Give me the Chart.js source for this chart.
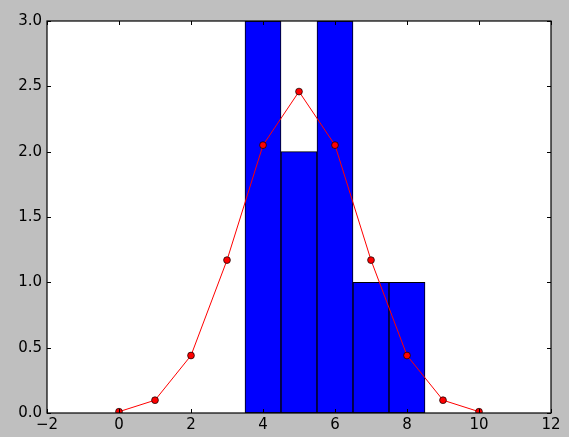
<!DOCTYPE html>
<html lang="en">
<head>
    <meta charset="UTF-8">
    <title>Histogram with curve</title>
    <script src="https://cdn.jsdelivr.net/npm/chart.js"></script>
    <style>
        html, body { margin: 0; padding: 0; background: #bfbfbf; }
        #wrap { width: 569px; height: 437px; }
    </style>
</head>
<body>
    <div id="wrap"><canvas id="chart"></canvas></div>

    <script>
        // values
        const xValues = [0, 1, 2, 3, 4, 5, 6, 7, 8, 9, 10];
        const histCounts = [0, 0, 0, 0, 3, 2, 3, 1, 1, 0, 0];
        const curveValues = [0.01, 0.098, 0.44, 1.17, 2.05, 2.46, 2.05, 1.17, 0.44, 0.098, 0.01];
        const xTicks = [-2, 0, 2, 4, 6, 8, 10, 12];
        const yTicks = [0, 0.5, 1, 1.5, 2, 2.5, 3];

        // frame + inward ticks on all four sides, like matplotlib classic
        const framePlugin = {
            id: 'frame',
            afterDraw(chart) {
                const { ctx, chartArea: a, scales } = chart;
                const len = 4;
                ctx.save();
                ctx.strokeStyle = '#000';
                ctx.lineWidth = 1;
                ctx.beginPath();
                xTicks.forEach(v => {
                    const px = Math.round(scales.x.getPixelForValue(v)) + 0.5;
                    ctx.moveTo(px, a.bottom); ctx.lineTo(px, a.bottom - len);
                    ctx.moveTo(px, a.top); ctx.lineTo(px, a.top + len);
                });
                yTicks.forEach(v => {
                    const py = Math.round(scales.y.getPixelForValue(v)) + 0.5;
                    ctx.moveTo(a.left, py); ctx.lineTo(a.left + len, py);
                    ctx.moveTo(a.right, py); ctx.lineTo(a.right - len, py);
                });
                ctx.stroke();
                ctx.lineWidth = 1.2;
                ctx.strokeRect(a.left, a.top, a.right - a.left, a.bottom - a.top);
                ctx.restore();
            },
            beforeDraw(chart) {
                const { ctx, chartArea: a } = chart;
                ctx.save();
                ctx.fillStyle = '#bfbfbf';
                ctx.fillRect(0, 0, chart.width, chart.height);
                ctx.fillStyle = '#fff';
                ctx.fillRect(a.left, a.top, a.right - a.left, a.bottom - a.top);
                ctx.restore();
            }
        };

        const tickFont = { family: 'DejaVu Sans', size: 15 };

        new Chart(document.getElementById('chart'), {
            type: 'bar',
            data: {
                datasets: [
                    {
                        type: 'line',
                        data: xValues.map((x, i) => ({ x: x, y: curveValues[i] })),
                        borderColor: '#ff0000',
                        borderWidth: 1,
                        pointRadius: 3.4,
                        pointBackgroundColor: '#ff0000',
                        pointBorderColor: '#000',
                        pointBorderWidth: 0.7,
                        tension: 0,
                        clip: 0,
                        order: 0
                    },
                    {
                        type: 'bar',
                        data: xValues.map((x, i) => ({ x: x, y: histCounts[i] })),
                        backgroundColor: '#0000ff',
                        borderColor: '#000',
                        borderWidth: 1,
                        borderSkipped: false,
                        barPercentage: 1,
                        categoryPercentage: 1,
                        clip: 0,
                        order: 1
                    }
                ]
            },
            options: {
                responsive: true,
                maintainAspectRatio: false,
                animation: false,
                layout: { padding: { left: 0, top: 21, right: 18, bottom: 0 } },
                plugins: { legend: { display: false }, tooltip: { enabled: false } },
                scales: {
                    x: {
                        type: 'linear',
                        min: -2,
                        max: 12,
                        offset: false,
                        grid: { display: false, drawTicks: false, offset: false },
                        border: { display: false },
                        afterBuildTicks: axis => { axis.ticks = xTicks.map(v => ({ value: v })); },
                        afterFit: axis => { axis.height = 24; },
                        ticks: {
                            color: '#000',
                            font: tickFont,
                            padding: 3,
                            maxRotation: 0,
                            callback: v => String(v).replace('-', '\u2212')
                        }
                    },
                    y: {
                        min: 0,
                        max: 3,
                        grid: { display: false, drawTicks: false },
                        border: { display: false },
                        afterBuildTicks: axis => { axis.ticks = yTicks.map(v => ({ value: v })); },
                        afterFit: axis => { axis.width = 47; },
                        ticks: {
                            color: '#000',
                            font: tickFont,
                            padding: 5,
                            callback: v => Number(v).toFixed(1)
                        }
                    }
                }
            },
            plugins: [framePlugin]
        });
    </script>
</body>
</html>
